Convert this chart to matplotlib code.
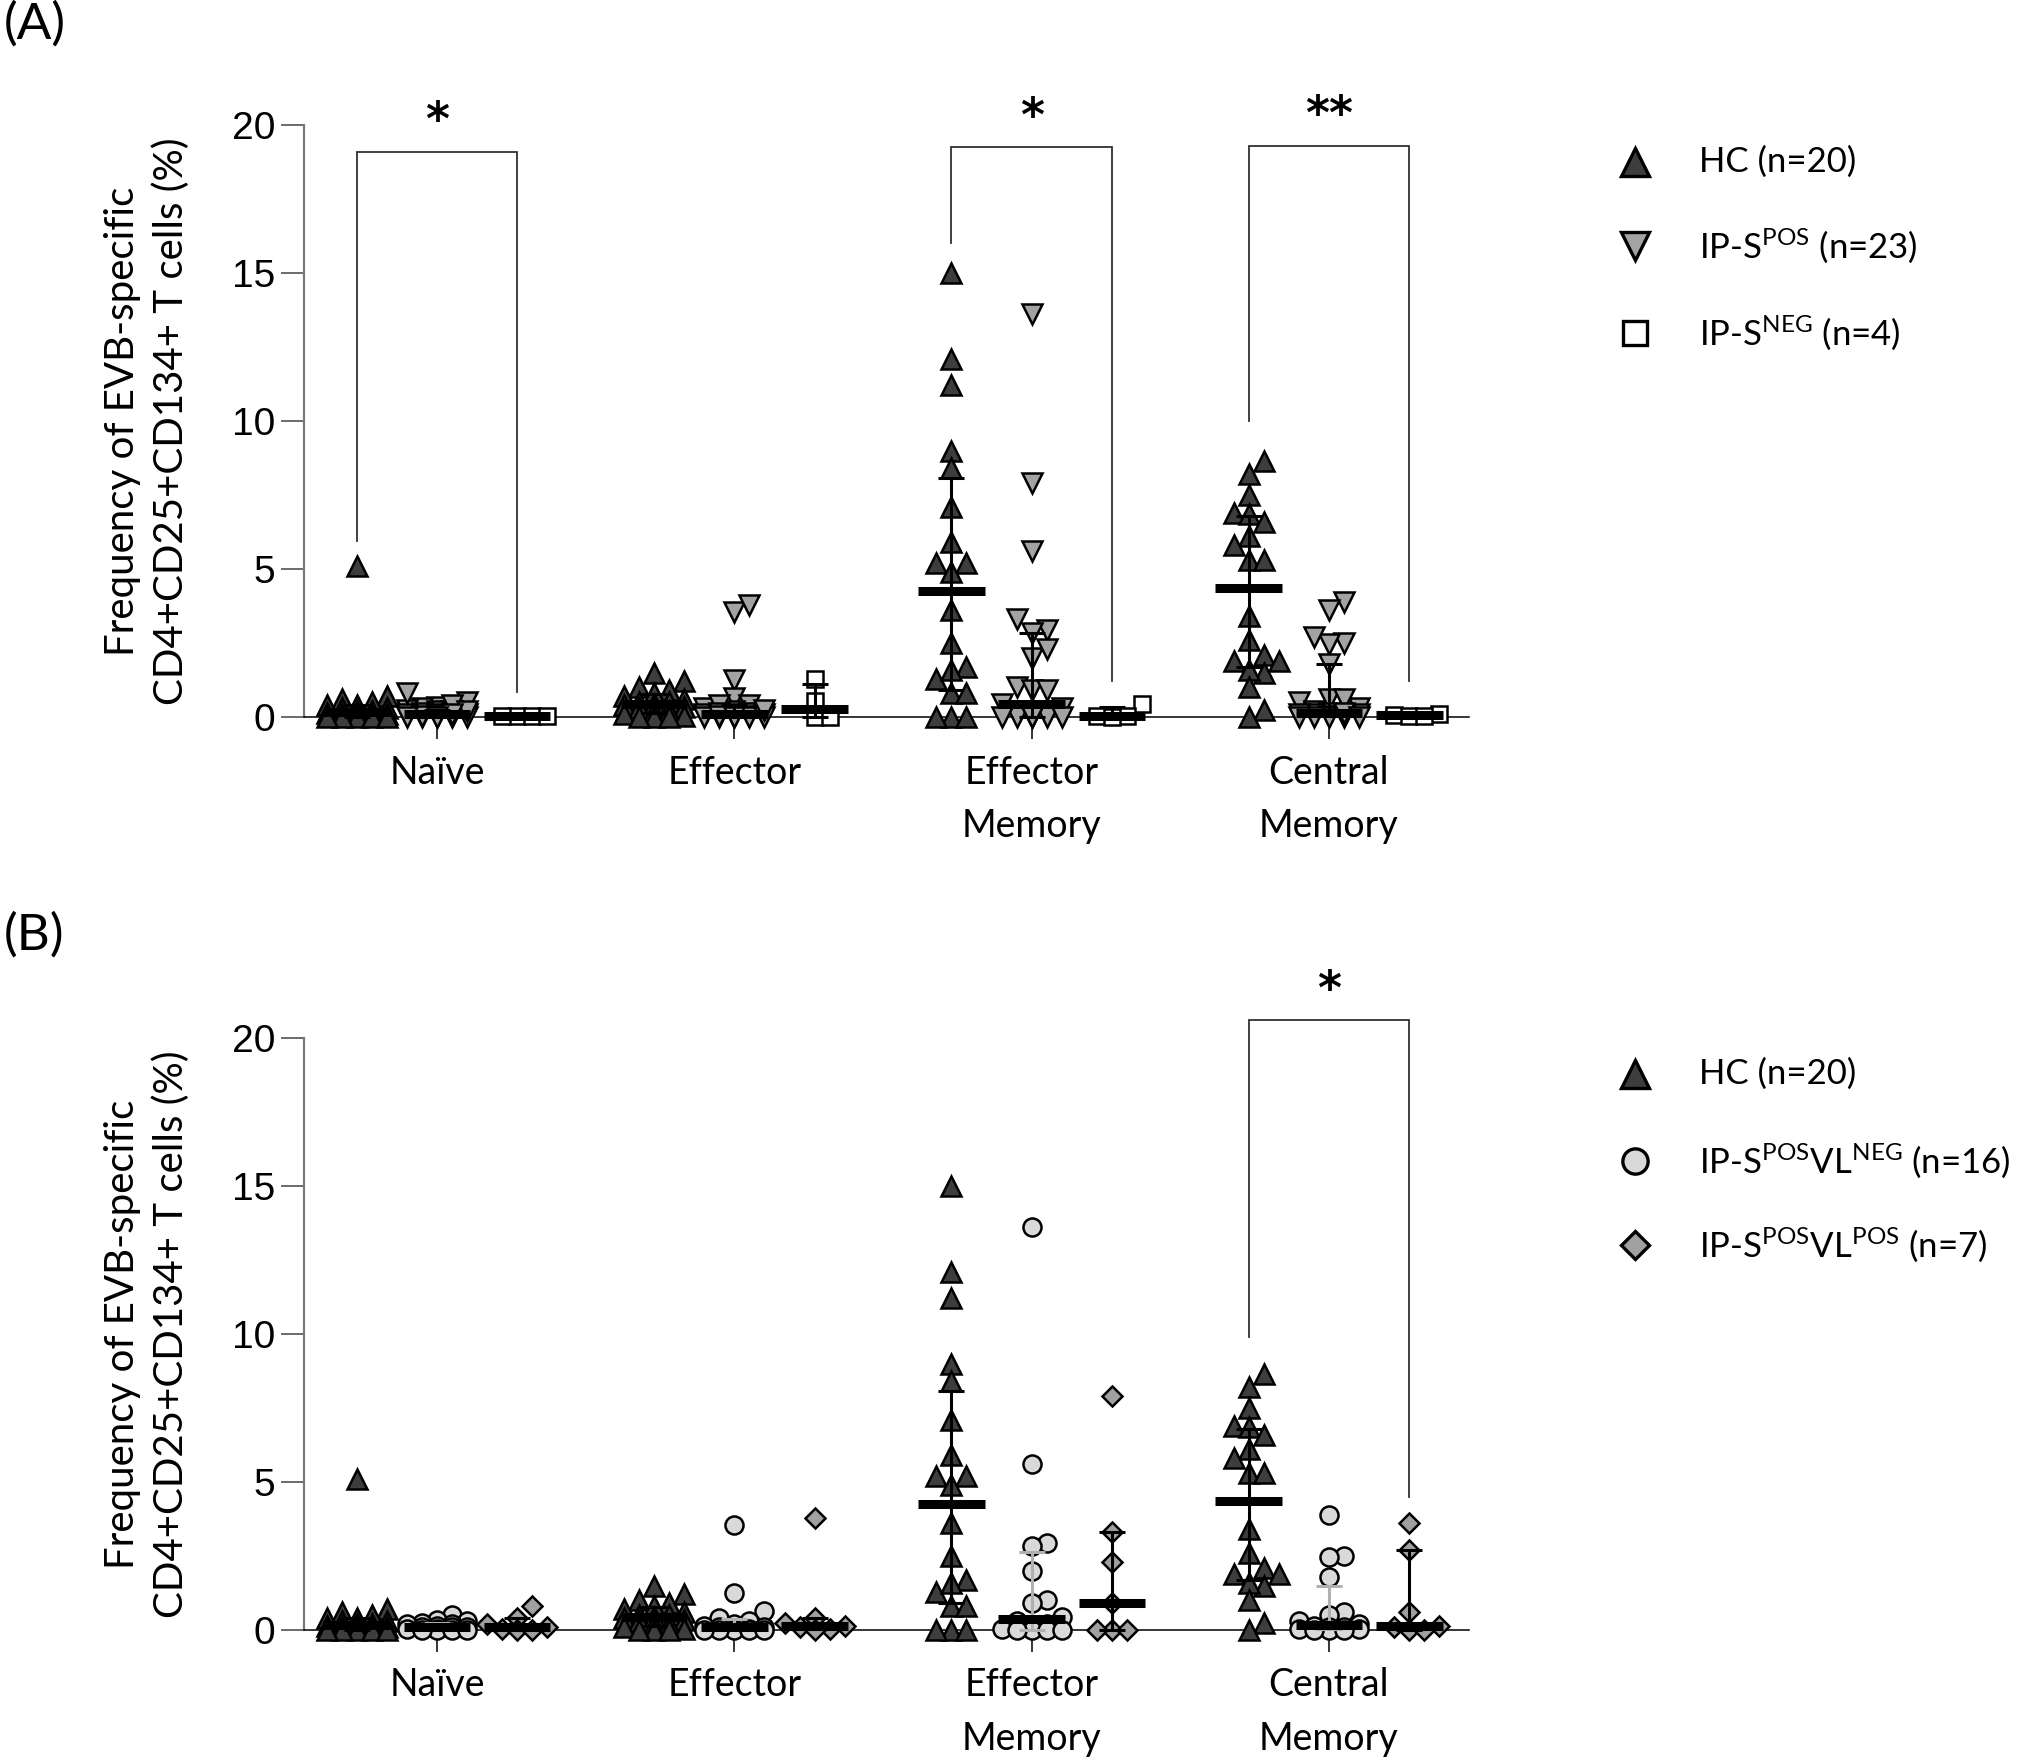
import numpy as np
import matplotlib
matplotlib.use("Agg")
import matplotlib.pyplot as plt
from matplotlib.lines import Line2D

plt.rcParams['font.family'] = ['Lato', 'DejaVu Sans']
plt.rcParams['mathtext.fontset'] = 'custom'
plt.rcParams['mathtext.rm'] = 'Lato'
plt.rcParams['mathtext.it'] = 'Lato:italic'
plt.rcParams['mathtext.bf'] = 'Lato:bold'

# ---------------- data ----------------
categories = ["Naïve", "Effector", "Effector\nMemory", "Central\nMemory"]
y_ticks = [0, 5, 10, 15, 20]

hc_naive = [5.1, 0.7, 0.6, 0.5, 0.4, 0.4, 0.3, 0.3, 0.2, 0.2, 0.15, 0.1, 0.1, 0.05, 0.05, 0, 0, 0, 0, 0]
hc_effector = [1.5, 1.2, 1.0, 0.9, 0.8, 0.7, 0.6, 0.5, 0.5, 0.45, 0.4, 0.35, 0.3, 0.2, 0.2, 0.1, 0.05, 0, 0, 0]
hc_em = [15.0, 12.1, 11.2, 9.0, 8.4, 7.1, 5.9, 5.2, 5.2, 4.9, 3.6, 2.5, 1.7, 1.3, 1.6, 0.8, 0.8, 0, 0, 0]
hc_cm = [8.65, 8.2, 7.5, 6.9, 6.85, 6.6, 6.1, 5.8, 5.3, 5.3, 3.4, 2.6, 2.1, 1.9, 1.9, 1.5, 1.6, 1.0, 0.24, 0]

vlneg_naive = [0.5, 0.35, 0.3, 0.25, 0.2, 0.2, 0.15, 0.1, 0.1, 0.1, 0.05, 0.05, 0, 0, 0, 0]
vlneg_effector = [3.55, 1.25, 0.65, 0.4, 0.3, 0.2, 0.15, 0.1, 0.1, 0.05, 0.05, 0, 0, 0, 0, 0]
vlneg_em = [13.6, 5.6, 2.95, 2.85, 2.0, 1.0, 0.9, 0.45, 0.3, 0.2, 0.1, 0.05, 0, 0, 0, 0]
vlneg_cm = [3.9, 2.5, 2.45, 1.8, 0.6, 0.5, 0.3, 0.2, 0.15, 0.1, 0.1, 0.05, 0.05, 0, 0, 0]

vlpos_naive = [0.8, 0.4, 0.2, 0.1, 0.05, 0, 0]
vlpos_effector = [3.8, 0.4, 0.25, 0.15, 0.1, 0.05, 0]
vlpos_em = [7.9, 3.3, 2.3, 0.9, 0, 0, 0]
vlpos_cm = [3.6, 2.7, 0.6, 0.15, 0.1, 0, 0]

neg_naive = [0.05, 0.05, 0.05, 0.05]
neg_effector = [1.3, 0.55, 0, 0]
neg_em = [0.45, 0.05, 0.05, 0]
neg_cm = [0.1, 0.08, 0.05, 0.05]

hc_all = [hc_naive, hc_effector, hc_em, hc_cm]
vlneg_all = [vlneg_naive, vlneg_effector, vlneg_em, vlneg_cm]
vlpos_all = [vlpos_naive, vlpos_effector, vlpos_em, vlpos_cm]
ipspos_all = [a + b for a, b in zip(vlneg_all, vlpos_all)]
neg_all = [neg_naive, neg_effector, neg_em, neg_cm]

legend_top = ["HC (n=20)", "IP-$\\mathrm{S}^{\\mathrm{POS}}$ (n=23)", "IP-$\\mathrm{S}^{\\mathrm{NEG}}$ (n=4)"]
legend_bot = ["HC (n=20)", "IP-$\\mathrm{S}^{\\mathrm{POS}}\\mathrm{VL}^{\\mathrm{NEG}}$ (n=16)",
              "IP-$\\mathrm{S}^{\\mathrm{POS}}\\mathrm{VL}^{\\mathrm{POS}}$ (n=7)"]

# significance brackets: (group, left subgroup, right subgroup, top, left leg end, right leg end, label)
brackets_top = [(0, -1, 1, 19.1, 5.95, 0.85, "*"),
                (2, -1, 1, 19.25, 16.0, 1.2, "*"),
                (3, -1, 1, 19.3, 10.0, 1.2, "**")]
brackets_bot = [(3, -1, 1, 20.6, 9.9, 4.5, "*")]

# ---------------- layout ----------------
W, H = 2029, 1763
fig = plt.figure(figsize=(W / 100, H / 100), dpi=100)
XL = (-0.447, 3.471)
OFF = 0.27
PPU_X = (1469 - 304) / (XL[1] - XL[0])
PPU_Y = (717 - 125) / 20.0

ax_top = fig.add_axes([304 / W, 1 - 717 / H, (1469 - 304) / W, (717 - 125) / H])
ax_bot = fig.add_axes([304 / W, 1 - 1630 / H, (1469 - 304) / W, (1630 - 1038) / H])

STY = {
    'hc': dict(marker='^', mfc='#3d3d3d', ms=14, ebc='black'),
    'pos': dict(marker='v', mfc='#a3a3a3', ms=14, ebc='black'),
    'neg': dict(marker='s', mfc='white', ms=12, ebc='black'),
    'circ': dict(marker='o', mfc='#d9d9d9', ms=13, ebc='#b0b0b0'),
    'diam': dict(marker='D', mfc='#a0a0a0', ms=10, ebc='black'),
}


def swarm_x(vals, center, step=15.0, mind=15.0, kmax=2):
    vals = np.asarray(vals, float)
    order = np.argsort(vals, kind='stable')
    placed = []
    xs = np.zeros(len(vals))
    cands = [0]
    for k in range(1, kmax + 1):
        cands += [k, -k]
    for i in order:
        y = vals[i] * PPU_Y
        best, bestd, bx = None, -1, 0.0
        for k in cands:
            x = k * step
            d = min([np.hypot(x - px, y - py) for px, py in placed], default=1e9)
            if d >= mind:
                best = x
                break
            if d > bestd + 1e-9:
                bestd, bx = d, x
        if best is None:
            best = bx
        placed.append((best, y))
        xs[i] = center + best / PPU_X
    return xs


def draw_group(ax, vals, center, key):
    s = STY[key]
    xs = swarm_x(vals, center)
    ax.plot(xs, vals, linestyle='none', marker=s['marker'], mfc=s['mfc'], mec='black',
            ms=s['ms'], mew=1.8, clip_on=False, zorder=3)
    v = np.asarray(vals, float)
    med = np.median(v)
    q1, q3 = np.percentile(v, [25, 75], method='weibull')
    ax.errorbar([center], [med], yerr=[[med - q1], [q3 - med]], fmt='none',
                ecolor=s['ebc'], elinewidth=2.2, capsize=9.5, capthick=2.2, zorder=4,
                clip_on=False)
    ax.hlines(med, center - 0.112, center + 0.112, colors='black', lw=6.5, zorder=5,
              clip_on=False)


def style_axes(ax):
    ax.set_xlim(*XL)
    ax.set_ylim(0, 20)
    ax.spines['top'].set_visible(False)
    ax.spines['right'].set_visible(False)
    ax.spines['left'].set_color('#7a7a7a')
    ax.spines['left'].set_linewidth(1.6)
    ax.spines['bottom'].set_color('black')
    ax.spines['bottom'].set_linewidth(1.1)
    ax.set_yticks(y_ticks)
    ax.set_yticklabels([str(t) for t in y_ticks], fontfamily='Liberation Sans', fontsize=28)
    ax.tick_params(axis='y', direction='out', length=16.5, width=1.4, color='#6a6a6a', pad=4)
    ax.set_xticks(range(len(categories)))
    ax.set_xticklabels(categories, fontsize=27, linespacing=1.6)
    ax.tick_params(axis='x', direction='out', length=16, width=1.1, color='black', pad=11)
    ax.set_ylabel("Frequency of EVB-specific\nCD4+CD25+CD134+ T cells (%)", fontsize=29,
                  linespacing=1.4, labelpad=30)
    ax.patch.set_alpha(0)


def draw_brackets(ax, brs):
    for g, l, r, top, ly, ry, lab in brs:
        xl, xr = g + l * OFF, g + r * OFF
        ax.plot([xl, xl, xr, xr], [ly, top, top, ry], color='#303030', lw=1.3,
                clip_on=False, zorder=2, solid_joinstyle='miter')
        ax.text((xl + xr) / 2, top + 0.55, lab, ha='center', va='baseline', fontsize=33,
                fontweight='bold', fontfamily='DejaVu Sans', clip_on=False)


# top panel
for g in range(4):
    draw_group(ax_top, hc_all[g], g - OFF, 'hc')
    draw_group(ax_top, ipspos_all[g], g, 'pos')
    draw_group(ax_top, neg_all[g], g + OFF, 'neg')
style_axes(ax_top)
draw_brackets(ax_top, brackets_top)

# bottom panel
for g in range(4):
    draw_group(ax_bot, hc_all[g], g - OFF, 'hc')
    draw_group(ax_bot, vlneg_all[g], g, 'circ')
    draw_group(ax_bot, vlpos_all[g], g + OFF, 'diam')
style_axes(ax_bot)
draw_brackets(ax_bot, brackets_bot)

# legends (manual)
def legend(rows_y, keys, labels):
    for y, k, lab in zip(rows_y, keys, labels):
        s = STY[k]
        ms = s['ms'] * 1.4
        fig.add_artist(Line2D([1635 / W], [1 - y / H], transform=fig.transFigure,
                              linestyle='none', marker=s['marker'], mfc=s['mfc'], mec='black',
                              ms=ms, mew=2.4))
        fig.text(1699 / W, 1 - y / H, lab, fontsize=25, va='center', ha='left')

legend([162, 246, 333], ['hc', 'pos', 'neg'], legend_top)
legend([1074, 1161, 1245], ['hc', 'circ', 'diam'], legend_bot)

fig.text(4 / W, 1 - 1 / H, "(A)", fontsize=37, va='top', ha='left')
fig.text(4 / W, 1 - 912 / H, "(B)", fontsize=37, va='top', ha='left')

fig.savefig("out.png", dpi=100)
